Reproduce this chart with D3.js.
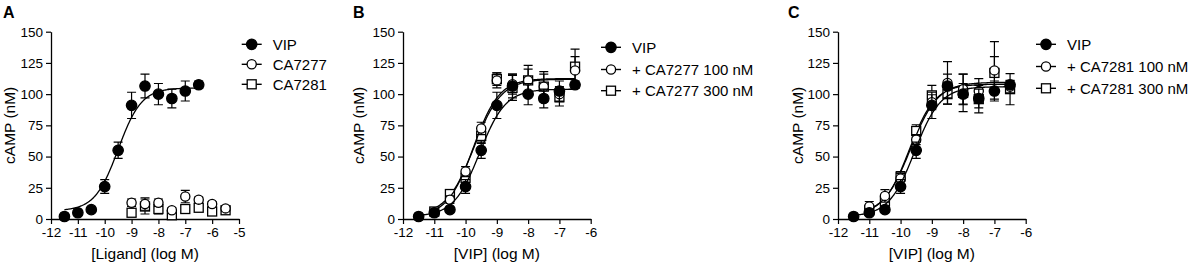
<!DOCTYPE html>
<html>
<head>
<meta charset="utf-8">
<script src="https://cdn.jsdelivr.net/npm/d3@7"></script>
<style>
  body { margin: 0; background: #fff; }
  svg text { font-family: "Liberation Sans", Arial, sans-serif; fill: #000; }
</style>
</head>
<body>
<div id="chart-area"></div>
<script>
// ---- data ----
const yTicks = [0, 25, 50, 75, 100, 125, 150];
const xTicksA = [-12, -11, -10, -9, -8, -7, -6, -5];
const xTicksBC = [-12, -11, -10, -9, -8, -7, -6];

// VIP alone (same points in all three panels)
const vipX = [-11.5, -11, -10.5, -10, -9.5, -9, -8.5, -8, -7.5, -7, -6.5];
const vipMean = [2, 5, 7.5, 26, 55, 91, 106.5, 100, 96.5, 102.5, 107.5];
const vipErr = [1, 2, 2, 5.5, 6.5, 10.5, 9.5, 8.5, 7.5, 8, 3];

// panel A, compounds alone
const cmpX = [-9, -8.5, -8, -7.5, -7, -6.5, -6, -5.5];
const ca7277Mean = [13, 12, 13, 7, 18, 15.5, 12, 8.5];
const ca7277Err = [3, 5, 3, 2, 5, 2, 2, 2];
const ca7281Mean = [5, 10, 8, 3, 8, 9, 6, 7];
const ca7281Err = [3, 6, 4, 2, 3, 2, 3, 2];

// panels B and C, VIP plus antagonist
const comboX = [-11, -10.5, -10, -9.5, -9, -8.5, -8, -7.5, -7, -6.5];
const b100Mean = [5, 15.5, 38, 72.5, 111, 108, 111, 106, 100, 119];
const b100Err = [2, 3, 4, 5, 6, 8, 9, 12, 6, 11];
const b300Mean = [6, 20, 33, 66.5, 112, 105, 111, 106, 97.5, 122];
const b300Err = [2, 3, 4, 6, 5, 10, 12, 10, 7, 14];
const c100Mean = [10, 18.5, 32.5, 63.5, 93.5, 109, 104, 102.5, 119, 106];
const c100Err = [4, 5, 4, 4, 6, 17, 12, 10, 23, 5];
const c300Mean = [7, 14, 34, 70.5, 99, 100, 101, 96, 117, 104];
const c300Err = [4, 4, 4, 5, 8, 8, 15, 11, 13, 12.5];

// sigmoid fits: [bottom, top, logEC50, hill]
const fitAvip = [6.5, 105, -9.5, 1.0];
const fitBvip = [2, 104, -9.55, 1.05];
const fitB100 = [2, 112.5, -9.75, 1.05];
const fitB300 = [3, 112, -9.73, 1.0];
const fitCvip = [2, 106, -9.55, 1.05];
const fitC100 = [3, 109.5, -9.68, 1.0];
const fitC300 = [3, 108, -9.72, 1.05];

// ---- layout ----
const W = 1192, H = 263;
const yTop = 31.7, yBottom = 219;
const font = '"Liberation Sans", Arial, sans-serif';

const panels = [
  {letter: 'A', letterX: 3, left: 51, right: 239, xMax: -5, xTicks: xTicksA,
   xTitle: '[Ligand] (log M)', yTitleX: 9.5,
   legX: 251.7, legRows: [44.3, 64.3, 84.3],
   series: [
     {name: 'VIP', x: vipX, mean: vipMean, err: vipErr, shape: 'dot', fit: fitAvip},
     {name: 'CA7277', x: cmpX, mean: ca7277Mean, err: ca7277Err, shape: 'circle', fit: null},
     {name: 'CA7281', x: cmpX, mean: ca7281Mean, err: ca7281Err, shape: 'square', fit: null}
   ]},
  {letter: 'B', letterX: 353, left: 403, right: 590.7, xMax: -6, xTicks: xTicksBC,
   xTitle: '[VIP] (log M)', yTitleX: 358,
   legX: 611, legRows: [47.3, 69.5, 90.7],
   series: [
     {name: 'VIP', x: vipX, mean: vipMean, err: vipErr, shape: 'dot', fit: fitBvip},
     {name: '+ CA7277 100 nM', x: comboX, mean: b100Mean, err: b100Err, shape: 'circle', fit: fitB100},
     {name: '+ CA7277 300 nM', x: comboX, mean: b300Mean, err: b300Err, shape: 'square', fit: fitB300}
   ]},
  {letter: 'C', letterX: 788, left: 838, right: 1025.7, xMax: -6, xTicks: xTicksBC,
   xTitle: '[VIP] (log M)', yTitleX: 797.5,
   legX: 1046, legRows: [44.3, 66.5, 88.3],
   series: [
     {name: 'VIP', x: vipX, mean: vipMean, err: vipErr, shape: 'dot', fit: fitCvip},
     {name: '+ CA7281 100 nM', x: comboX, mean: c100Mean, err: c100Err, shape: 'circle', fit: fitC100},
     {name: '+ CA7281 300 nM', x: comboX, mean: c300Mean, err: c300Err, shape: 'square', fit: fitC300}
   ]}
];

const svg = d3.select('#chart-area')
  .append('svg')
  .attr('width', W)
  .attr('height', H);

const y = d3.scaleLinear().domain([0, 150]).range([yBottom, yTop]);

function logistic(p, x) {
  const [bottom, top, ec50, hill] = p;
  return bottom + (top - bottom) / (1 + Math.pow(10, (ec50 - x) * hill));
}

function drawSymbol(g, shape, cx, cy) {
  if (shape === 'square') {
    g.append('rect')
      .attr('x', cx - 4.5).attr('y', cy - 4.5)
      .attr('width', 9).attr('height', 9)
      .attr('fill', '#fff').attr('stroke', '#000').attr('stroke-width', 1.3);
  } else {
    g.append('circle')
      .attr('cx', cx).attr('cy', cy)
      .attr('r', shape === 'dot' ? 5.2 : 4.6)
      .attr('fill', shape === 'dot' ? '#000' : '#fff')
      .attr('stroke', '#000').attr('stroke-width', 1.3);
  }
}

panels.forEach(p => {
  const x = d3.scaleLinear().domain([-12, p.xMax]).range([p.left, p.right]);
  const g = svg.append('g');

  // panel letter
  g.append('text')
    .attr('x', p.letterX).attr('y', 17.5)
    .attr('font-size', '16px').attr('font-weight', 'bold')
    .text(p.letter);

  // axes
  const xAxis = g.append('g')
    .attr('transform', `translate(0, ${yBottom})`)
    .call(d3.axisBottom(x).tickValues(p.xTicks).tickFormat(d => String(d))
      .tickSize(5).tickSizeOuter(0).tickPadding(3));
  const yAxis = g.append('g')
    .attr('transform', `translate(${p.left}, 0)`)
    .call(d3.axisLeft(y).tickValues(yTicks).tickFormat(d => String(d))
      .tickSize(5).tickSizeOuter(0).tickPadding(3));
  [xAxis, yAxis].forEach(a => {
    a.attr('font-family', font).attr('font-size', '13.5px');
    a.select('.domain').attr('stroke-width', 1.3);
    a.selectAll('.tick line').attr('stroke-width', 1.2);
    a.selectAll('.tick text').attr('fill', '#000');
  });

  // axis titles
  g.append('text')
    .attr('x', (p.left + p.right) / 2).attr('y', 259)
    .attr('text-anchor', 'middle').attr('font-size', '15.5px')
    .text(p.xTitle);
  g.append('text')
    .attr('transform', `translate(${p.yTitleX + 5.5}, ${(yTop + yBottom) / 2}) rotate(-90)`)
    .attr('text-anchor', 'middle').attr('font-size', '15.5px')
    .text('cAMP (nM)');

  // series, VIP on top
  p.series.slice().reverse().forEach(s => {
    const sg = g.append('g');
    // error bars
    s.x.forEach((xv, i) => {
      const y0 = y(s.mean[i] - s.err[i]), y1 = y(s.mean[i] + s.err[i]);
      const cx = x(xv);
      sg.append('path')
        .attr('d', `M${cx},${y0}V${y1}M${cx - 4.5},${y0}H${cx + 4.5}M${cx - 4.5},${y1}H${cx + 4.5}`)
        .attr('stroke', '#000').attr('stroke-width', 1.2).attr('fill', 'none');
    });
    // fitted curve
    if (s.fit) {
      const xs = d3.range(s.x[0], s.x[s.x.length - 1] + 0.0001, 0.02);
      sg.append('path')
        .datum(xs)
        .attr('d', d3.line().x(d => x(d)).y(d => y(logistic(s.fit, d))))
        .attr('fill', 'none').attr('stroke', '#000').attr('stroke-width', 1.3);
    }
    // symbols
    s.x.forEach((xv, i) => drawSymbol(sg, s.shape, x(xv), y(s.mean[i])));
  });

  // legend
  p.series.forEach((s, i) => {
    const ly = p.legRows[i];
    g.append('line')
      .attr('x1', p.legX - 10).attr('x2', p.legX + 10)
      .attr('y1', ly).attr('y2', ly)
      .attr('stroke', '#000').attr('stroke-width', 1.4);
    drawSymbol(g, s.shape, p.legX, ly);
    g.append('text')
      .attr('x', p.legX + 21).attr('y', ly)
      .attr('dy', '0.36em').attr('font-size', '15px')
      .text(s.name);
  });
});
</script>
</body>
</html>
